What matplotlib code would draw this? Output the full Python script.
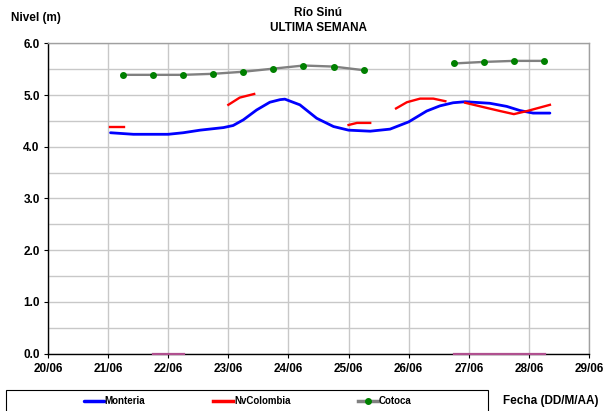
import matplotlib.pyplot as plt
from matplotlib.patches import Rectangle
from matplotlib.ticker import MultipleLocator

plt.rcParams['font.family'] = ['Liberation Sans', 'DejaVu Sans']
plt.rcParams['font.weight'] = 'bold'

# Series data (x = day of June)
monteria_x = [21.04, 21.42, 22.0, 22.25, 22.53, 22.92, 23.08, 23.25, 23.47, 23.69,
              23.86, 23.94, 24.19, 24.47, 24.75, 25.0, 25.36, 25.69, 26.0, 26.3,
              26.52, 26.74, 26.94, 27.35, 27.63, 27.85, 28.07, 28.35]
monteria_y = [4.27, 4.24, 4.24, 4.27, 4.32, 4.37, 4.41, 4.52, 4.71, 4.86,
              4.91, 4.92, 4.81, 4.55, 4.39, 4.32, 4.30, 4.34, 4.48, 4.69,
              4.79, 4.85, 4.87, 4.84, 4.78, 4.70, 4.65, 4.65]

nvcol_segments_x = [
    [21.03, 21.27],
    [23.0, 23.19, 23.43],
    [25.0, 25.14, 25.36],
    [25.79, 25.97, 26.19, 26.41, 26.61],
    [26.94, 27.3, 27.52, 27.75, 27.97, 28.35],
]
nvcol_segments_y = [
    [4.39, 4.39],
    [4.81, 4.95, 5.02],
    [4.42, 4.46, 4.46],
    [4.74, 4.86, 4.93, 4.93, 4.88],
    [4.85, 4.75, 4.69, 4.63, 4.69, 4.81],
]

cotoca_segments_x = [
    [21.25, 21.75, 22.25, 22.75, 23.25, 23.75, 24.25, 24.75, 25.25],
    [26.75, 27.25, 27.75, 28.25],
]
cotoca_segments_y = [
    [5.39, 5.39, 5.39, 5.41, 5.45, 5.51, 5.57, 5.55, 5.48],
    [5.61, 5.64, 5.66, 5.66],
]

zero_segments_x = [[21.74, 22.27], [26.76, 28.27]]
zero_segments_y = [[0.0, 0.0], [0.0, 0.0]]

day_ticks = list(range(20, 30))
day_labels = ["%02d/06" % d for d in day_ticks]

W, H = 609, 411
fig = plt.figure(figsize=(6.09, 4.11), dpi=100)
ax = fig.add_axes([48 / W, 1 - 353.5 / H, 541 / W, 310.2 / H])

# zero-level series
for xs, ys in zip(zero_segments_x, zero_segments_y):
    ax.plot(xs, ys, color="#b0508f", linewidth=1.6, zorder=3, clip_on=False)

ax.plot(monteria_x, monteria_y, color="#0000ff", linewidth=2.0, zorder=4,
        label="Monteria", solid_capstyle="round", solid_joinstyle="round")

for i, (xs, ys) in enumerate(zip(nvcol_segments_x, nvcol_segments_y)):
    ax.plot(xs, ys, color="#ff0000", linewidth=1.7, zorder=5,
            solid_joinstyle="round",
            label="NvColombia" if i == 0 else None)

for i, (xs, ys) in enumerate(zip(cotoca_segments_x, cotoca_segments_y)):
    ax.plot(xs, ys, color="#808080", linewidth=1.7, zorder=4,
            marker="o", markersize=4, markerfacecolor="#008000",
            markeredgecolor="#008000",
            label="Cotoca" if i == 0 else None)

ax.set_xlim(20, 29)
ax.set_ylim(0, 6)
ax.set_xticks(day_ticks)
ax.set_xticklabels(day_labels)
ax.yaxis.set_major_locator(MultipleLocator(1.0))
ax.yaxis.set_minor_locator(MultipleLocator(0.5))
ax.yaxis.set_major_formatter(lambda v, p: "%.1f" % v)

ax.grid(True, which="both", color="#c8c8c8", linewidth=1.0, zorder=0)
ax.set_axisbelow(True)
ax.tick_params(axis="both", labelsize=8.5, length=3, width=0.8, color="black")
ax.tick_params(axis="y", which="minor", length=0)
ax.tick_params(axis="x", pad=4)
ax.tick_params(axis="y", pad=3)

for side in ["top", "right"]:
    ax.spines[side].set_color("#a0a0a0")
    ax.spines[side].set_linewidth(1.0)
for side in ["left", "bottom"]:
    ax.spines[side].set_color("black")
    ax.spines[side].set_linewidth(1.0)

fig.text(36 / W, 1 - 18 / H, "Nivel (m)", ha="center", va="center",
         fontsize=8.5, fontweight="bold")
fig.text(318 / W, 1 - 13 / H, "Río Sinú", ha="center", va="center",
         fontsize=8.5, fontweight="bold")
fig.text(318 / W, 1 - 28 / H, "ULTIMA SEMANA", ha="center", va="center",
         fontsize=8.5, fontweight="bold")
fig.text(551 / W, 1 - 401 / H, "Fecha (DD/M/AA)", ha="center", va="center",
         fontsize=8.5, fontweight="bold")

# legend box (runs off the bottom of the picture)
fig.patches.append(Rectangle((6 / W, -0.05), 482 / W, 0.05 + (H - 390) / H,
                             transform=fig.transFigure, fill=False,
                             edgecolor="black", linewidth=0.8))
leg = fig.legend(loc="center", bbox_to_anchor=(248 / W, 1 - 401 / H),
                 ncol=3, fontsize=7, frameon=False,
                 handlelength=2.0, handletextpad=0.1, columnspacing=7.0,
                 borderpad=0, borderaxespad=0)
for line in leg.get_lines():
    line.set_linewidth(2.5)

fig.savefig("out.png", dpi=100)
